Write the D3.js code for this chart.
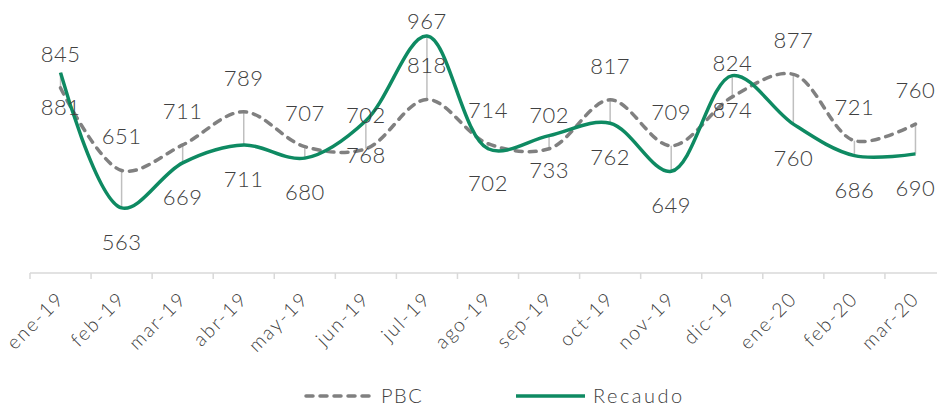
<!DOCTYPE html>
<html>
<head>
<meta charset="utf-8">
<script src="https://cdn.jsdelivr.net/npm/d3@7"></script>
<style>
  body { margin: 0; background: #fff; }
  svg { font-family: 'Lato', 'DejaVu Sans', sans-serif; font-weight: 300; }
</style>
</head>
<body>
<div id="chart"></div>
<script>
const months = ['ene-19', 'feb-19', 'mar-19', 'abr-19', 'may-19', 'jun-19', 'jul-19', 'ago-19',
  'sep-19', 'oct-19', 'nov-19', 'dic-19', 'ene-20', 'feb-20', 'mar-20'];
const pbc = [845, 651, 711, 789, 707, 702, 818, 714, 702, 817, 709, 824, 877, 721, 760];
const recaudo = [881, 563, 669, 711, 680, 768, 967, 702, 733, 762, 649, 874, 760, 686, 690];

const width = 937;
const height = 409;

const svg = d3.select('#chart').append('svg')
  .attr('width', width)
  .attr('height', height);

const x = d3.scaleBand()
  .domain(months)
  .range([30, 946]);

const y = d3.scaleLinear()
  .domain([410, 1000])
  .range([273, 22]);

const cx = m => x(m) + x.bandwidth() / 2;

// axis (band boundaries as ticks)
const axisY = y(410);
svg.append('line')
  .attr('x1', x.range()[0]).attr('x2', x.range()[1])
  .attr('y1', axisY).attr('y2', axisY)
  .attr('stroke', '#d9d9d9').attr('stroke-width', 1.5);

svg.append('g').selectAll('line')
  .data(months)
  .enter().append('line')
    .attr('x1', d => x(d)).attr('x2', d => x(d))
    .attr('y1', axisY).attr('y2', axisY + 6)
    .attr('stroke', '#d9d9d9').attr('stroke-width', 1.5);

svg.append('g').selectAll('text')
  .data(months)
  .enter().append('text')
    .attr('transform', d => `translate(${cx(d) + 5},${axisY + 27}) rotate(-45)`)
    .attr('text-anchor', 'end')
    .attr('fill', '#404040')
    .style('font-size', '19.5px')
    .style('letter-spacing', '1.8px')
    .text(d => d);

// high-low lines
svg.append('g').selectAll('line')
  .data(months)
  .enter().append('line')
    .attr('x1', d => cx(d)).attr('x2', d => cx(d))
    .attr('y1', (d, i) => y(pbc[i]))
    .attr('y2', (d, i) => y(recaudo[i]))
    .attr('stroke', '#bfbfbf').attr('stroke-width', 1.5);

const line = d3.line()
  .x((d, i) => cx(months[i]))
  .y(d => y(d))
  .curve(d3.curveCatmullRom.alpha(0.5));

svg.append('path')
  .datum(pbc)
  .attr('d', line)
  .attr('fill', 'none')
  .attr('stroke', '#808080')
  .attr('stroke-width', 3.5)
  .attr('stroke-dasharray', '7,7')
  .attr('stroke-linecap', 'round');

svg.append('path')
  .datum(recaudo)
  .attr('d', line)
  .attr('fill', 'none')
  .attr('stroke', '#0e8a62')
  .attr('stroke-width', 3.5);

// data labels: PBC above, Recaudo below (jul-19 peak above)
const labelSize = 22;
svg.append('g').selectAll('text')
  .data(pbc)
  .enter().append('text')
    .attr('x', (d, i) => cx(months[i]))
    .attr('y', d => y(d) - 34)
    .attr('dy', '0.36em')
    .attr('text-anchor', 'middle')
    .attr('fill', '#404040')
    .style('font-size', labelSize + 'px')
    .style('letter-spacing', '0.5px')
    .text(d => d);

svg.append('g').selectAll('text')
  .data(recaudo)
  .enter().append('text')
    .attr('x', (d, i) => cx(months[i]))
    .attr('y', (d, i) => months[i] === 'jul-19' ? y(d) - 15 : y(d) + 34)
    .attr('dy', '0.36em')
    .attr('text-anchor', 'middle')
    .attr('fill', '#404040')
    .style('font-size', labelSize + 'px')
    .style('letter-spacing', '0.5px')
    .text(d => d);

// legend
const legend = svg.append('g');
legend.append('line')
  .attr('x1', 306).attr('x2', 372).attr('y1', 396).attr('y2', 396)
  .attr('stroke', '#808080').attr('stroke-width', 3.5)
  .attr('stroke-dasharray', '7,7').attr('stroke-linecap', 'round');
legend.append('text')
  .attr('x', 381).attr('y', 396).attr('dy', '0.36em')
  .attr('fill', '#404040').style('font-size', '20px')
  .style('letter-spacing', '1.5px')
  .text('PBC');
legend.append('line')
  .attr('x1', 516).attr('x2', 585).attr('y1', 396).attr('y2', 396)
  .attr('stroke', '#0e8a62').attr('stroke-width', 3.5);
legend.append('text')
  .attr('x', 593).attr('y', 396).attr('dy', '0.36em')
  .attr('fill', '#404040').style('font-size', '20px')
  .style('letter-spacing', '2.5px')
  .text('Recaudo');
</script>
</body>
</html>
